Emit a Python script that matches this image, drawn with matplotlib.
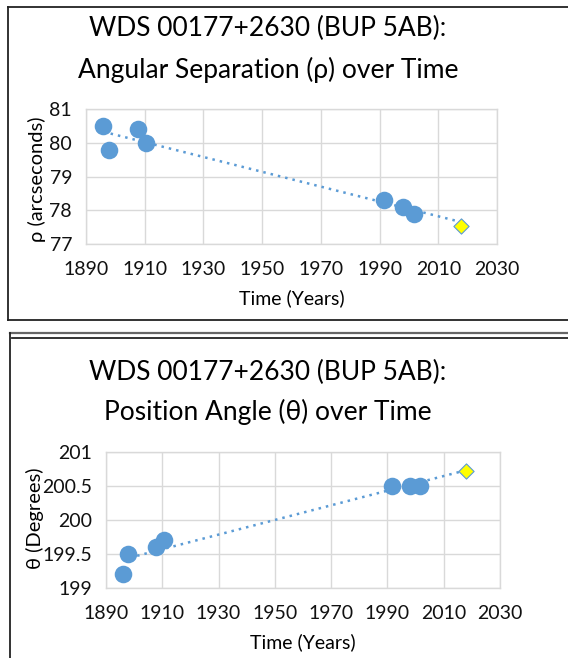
import matplotlib.pyplot as plt
import numpy as np
from matplotlib.lines import Line2D

# measured positions (years) and the predicted point
years = [1895.9, 1897.9, 1907.8, 1910.6, 1991.5, 1997.9, 2001.6]
rho = [80.5, 79.8, 80.4, 80.0, 78.3, 78.1, 77.9]
theta = [199.2, 199.5, 199.6, 199.7, 200.5, 200.5, 200.5]
pred_year = 2017.8
pred_rho = 77.53
pred_theta = 200.72

x_ticks = [1890, 1910, 1930, 1950, 1970, 1990, 2010, 2030]
rho_ticks = [77, 78, 79, 80, 81]
theta_ticks = [199, 199.5, 200, 200.5, 201]
theta_labels = ['199', '199.5', '200', '200.5', '201']

W, H = 568, 658
BLUE = '#5B9BD5'
GRID = '#D9D9D9'
FONT = ['Lato', 'DejaVu Sans']

plt.rcParams['font.family'] = FONT
fig = plt.figure(figsize=(W / 100, H / 100), dpi=100)


def px_axes(left, top, right, bottom):
    return fig.add_axes([left / W, 1 - bottom / H, (right - left) / W, (bottom - top) / H])


def fig_text(x, y, s, **kw):
    fig.text(x / W, 1 - y / H, s, ha='center', va='center', **kw)


def hline(x0, x1, y, color='#222222', lw=1.3):
    fig.add_artist(Line2D([x0 / W, x1 / W], [1 - y / H, 1 - y / H], color=color, lw=lw))


def vline(x, y0, y1, color='#222222', lw=1.3):
    fig.add_artist(Line2D([x / W, x / W], [1 - y0 / H, 1 - y1 / H], color=color, lw=lw))


def draw_panel(ax, vals, pred, yticks, ylabels, ylim):
    coef = np.polyfit(years, vals, 1)
    xs = np.array([years[0], pred_year])
    ax.plot(xs, np.polyval(coef, xs), ls=(0, (1, 2)), color=BLUE, lw=1.8, zorder=2)
    ax.scatter(years, vals, s=160, color=BLUE, zorder=3, linewidths=0)
    ax.scatter([pred_year], [pred], s=60, marker='D', color='#FFFF00',
               edgecolors=BLUE, linewidths=0.8, zorder=4)
    ax.set_xlim(1890, 2030)
    ax.set_ylim(*ylim)
    ax.set_xticks(x_ticks)
    ax.set_yticks(yticks)
    ax.set_yticklabels(ylabels)
    ax.grid(True, color=GRID, lw=1)
    ax.set_axisbelow(True)
    for sp in ax.spines.values():
        sp.set_color(GRID)
        sp.set_linewidth(1)
    ax.tick_params(length=0, labelsize=14, colors='#111111')
    ax.tick_params(axis='x', pad=12)
    ax.tick_params(axis='y', pad=10)


# panel 1
ax1 = px_axes(86, 109, 497, 244)
draw_panel(ax1, rho, pred_rho, rho_ticks, [str(t) for t in rho_ticks], (77, 81))
fig_text(268, 28, 'WDS 00177+2630 (BUP 5AB):', fontsize=19)
fig_text(268, 70, 'Angular Separation (ρ) over Time', fontsize=19)
fig_text(292, 298, 'Time (Years)', fontsize=14)
fig_text(37, 179, 'ρ (arcseconds)', fontsize=14.5, rotation=90)

# panel 2
ax2 = px_axes(106, 452, 500, 588)
draw_panel(ax2, theta, pred_theta, theta_ticks, theta_labels, (199, 201))
fig_text(268, 372, 'WDS 00177+2630 (BUP 5AB):', fontsize=19)
fig_text(268, 412, 'Position Angle (θ) over Time', fontsize=19)
fig_text(303, 642, 'Time (Years)', fontsize=14)
fig_text(35, 518, 'θ (Degrees)', fontsize=14.5, rotation=90)

# panel frames
hline(8, W, 7)
vline(8, 7, 320)
hline(8, W, 320)
hline(10, W, 333, color='#666666', lw=1.6)
hline(12, W, 338)
vline(10, 333, H)

fig.savefig('out.png', dpi=100)
